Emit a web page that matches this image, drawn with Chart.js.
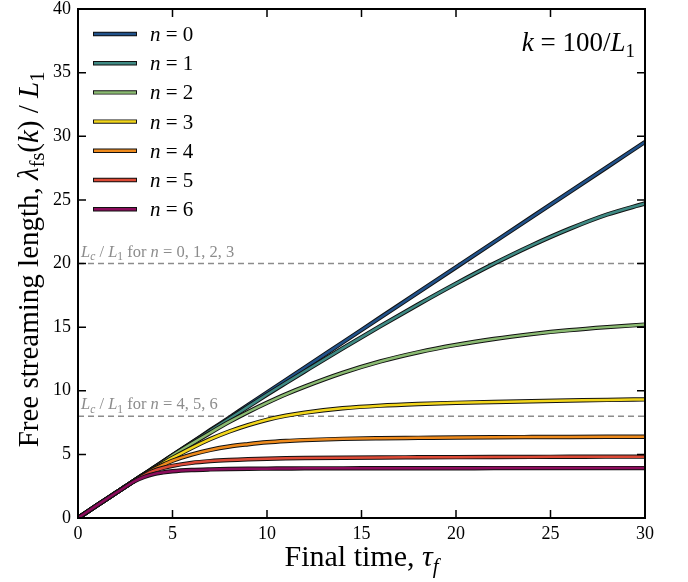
<!DOCTYPE html>
<html>
<head>
<meta charset="utf-8">
<script src="https://cdn.jsdelivr.net/npm/chart.js@4.4.1/dist/chart.umd.min.js"></script>
<style>
  body { margin: 0; background: #fff; }
  #wrap { width: 688px; height: 582px; }
</style>
</head>
<body>
<div id="wrap"><canvas id="fsChart" width="688" height="582"></canvas></div>
<script>
// final time tau_f (x) and free streaming length for each n (y)
const times = [0, 1, 2, 2.5, 3, 3.5, 4, 4.5, 5, 6, 7, 8, 9, 10, 11, 12, 14, 16, 18, 20, 22, 24, 26, 28, 30];
const n0 = [0, 0.99, 1.97, 2.46, 2.96, 3.45, 3.94, 4.43, 4.93, 5.91, 6.9, 7.88, 8.87, 9.85, 10.84, 11.82, 13.79, 15.76, 17.73, 19.7, 21.67, 23.64, 25.61, 27.58, 29.55];
const n1 = [0, 0.99, 1.97, 2.46, 2.96, 3.45, 3.94, 4.43, 4.92, 5.89, 6.85, 7.8, 8.75, 9.7, 10.62, 11.53, 13.33, 15.08, 16.78, 18.42, 19.98, 21.42, 22.72, 23.85, 24.72];
const n2 = [0, 0.99, 1.97, 2.46, 2.96, 3.44, 3.92, 4.4, 4.9, 5.82, 6.7, 7.55, 8.33, 9.05, 9.72, 10.32, 11.4, 12.3, 13.02, 13.6, 14.07, 14.45, 14.76, 15.0, 15.2];
const n3 = [0, 0.99, 1.97, 2.46, 2.95, 3.42, 3.87, 4.3, 4.72, 5.5, 6.2, 6.8, 7.3, 7.72, 8.04, 8.28, 8.62, 8.83, 8.96, 9.05, 9.12, 9.18, 9.23, 9.28, 9.32];
const n4 = [0, 0.99, 1.97, 2.46, 2.95, 3.4, 3.82, 4.18, 4.5, 4.98, 5.35, 5.62, 5.8, 5.95, 6.05, 6.12, 6.22, 6.27, 6.3, 6.33, 6.35, 6.36, 6.37, 6.38, 6.39];
const n5 = [0, 0.99, 1.97, 2.46, 2.94, 3.36, 3.7, 3.93, 4.1, 4.33, 4.47, 4.56, 4.62, 4.66, 4.69, 4.71, 4.74, 4.76, 4.77, 4.78, 4.79, 4.8, 4.81, 4.82, 4.82];
const n6 = [0, 0.99, 1.96, 2.44, 2.9, 3.22, 3.45, 3.58, 3.67, 3.77, 3.82, 3.85, 3.87, 3.88, 3.89, 3.9, 3.9, 3.91, 3.91, 3.91, 3.92, 3.92, 3.92, 3.92, 3.92];
const seriesNames = ['0', '1', '2', '3', '4', '5', '6'];
const seriesValues = [n0, n1, n2, n3, n4, n5, n6];
const seriesColors = ['#21528a', '#3f8a84', '#8bbb72', '#f2d61c', '#ee8a1c', '#dc4a36', '#8c0c5c'];
// critical lengths L_c/L_1 (dashed lines)
const critValues = [20, 8];
const critLabels = ['0, 1, 2, 3', '4, 5, 6'];
const xTicks = [0, 5, 10, 15, 20, 25, 30];
const yTicks = [0, 5, 10, 15, 20, 25, 30, 35, 40];

const SERIF = '"Liberation Serif", "DejaVu Serif", serif';

// build datasets: black outline under every coloured line
const datasets = [];
seriesValues.forEach(function(vals, i) {
  const pts = times.map(function(t, j) { return { x: t, y: vals[j] }; });
  datasets.push({
    label: 'outline' + i, data: pts, borderColor: '#111', borderWidth: 4.4,
    pointRadius: 0, cubicInterpolationMode: 'monotone', order: 2 * (6 - i) + 1
  });
  datasets.push({
    label: 'n = ' + seriesNames[i], data: pts, borderColor: seriesColors[i], borderWidth: 2.5,
    pointRadius: 0, cubicInterpolationMode: 'monotone', order: 2 * (6 - i)
  });
});
critValues.forEach(function(v, i) {
  datasets.push({
    label: 'crit' + i, data: [{ x: 0, y: v }, { x: 30, y: v }],
    borderColor: '#8c8c8c', borderWidth: 1.6, borderDash: [6, 4], pointRadius: 0, order: 20
  });
});

// draws a run of mixed italic / roman / subscript text
function runWidth(ctx, runs, size) {
  let w = 0;
  runs.forEach(function(r) {
    const s = r.sub ? size * 0.7 : size;
    ctx.font = (r.it ? 'italic ' : '') + s + 'px ' + SERIF;
    w += ctx.measureText(r.t).width;
  });
  return w;
}
function drawRuns(ctx, runs, x, y, size, align) {
  let w = runWidth(ctx, runs, size);
  let cx = align === 'center' ? x - w / 2 : (align === 'right' ? x - w : x);
  ctx.textAlign = 'left';
  ctx.textBaseline = 'alphabetic';
  runs.forEach(function(r) {
    const s = r.sub ? size * 0.7 : size;
    ctx.font = (r.it ? 'italic ' : '') + s + 'px ' + SERIF;
    ctx.fillText(r.t, cx, y + (r.sub ? size * 0.22 : 0));
    cx += ctx.measureText(r.t).width;
  });
}

const decorPlugin = {
  id: 'decor',
  afterDraw: function(chart) {
    const ctx = chart.ctx;
    const a = chart.chartArea;
    const xs = chart.scales.x, ys = chart.scales.y;
    ctx.save();
    // inward ticks on all four sides
    ctx.strokeStyle = '#000';
    ctx.lineWidth = 1.5;
    ctx.beginPath();
    xTicks.forEach(function(v) {
      const px = xs.getPixelForValue(v);
      ctx.moveTo(px, a.bottom); ctx.lineTo(px, a.bottom - 8);
      ctx.moveTo(px, a.top); ctx.lineTo(px, a.top + 8);
    });
    yTicks.forEach(function(v) {
      const py = ys.getPixelForValue(v);
      ctx.moveTo(a.left, py); ctx.lineTo(a.left + 8, py);
      ctx.moveTo(a.right, py); ctx.lineTo(a.right - 8, py);
    });
    ctx.stroke();
    // frame
    ctx.lineWidth = 2;
    ctx.strokeRect(a.left, a.top, a.right - a.left, a.bottom - a.top);

    // legend
    seriesNames.forEach(function(name, i) {
      const y = a.top + 25 + i * 29.2;
      ctx.lineCap = 'butt';
      ctx.strokeStyle = '#111'; ctx.lineWidth = 4.4;
      ctx.beginPath(); ctx.moveTo(93, y); ctx.lineTo(137, y); ctx.stroke();
      ctx.strokeStyle = seriesColors[i]; ctx.lineWidth = 2.5;
      ctx.beginPath(); ctx.moveTo(94, y); ctx.lineTo(136, y); ctx.stroke();
      ctx.fillStyle = '#000';
      drawRuns(ctx, [{ t: 'n', it: true }, { t: ' = ' + name }], 150, y + 7, 21, 'left');
    });

    // dashed line labels
    ctx.fillStyle = '#8c8c8c';
    critValues.forEach(function(v, i) {
      const py = ys.getPixelForValue(v);
      drawRuns(ctx, [
        { t: 'L', it: true }, { t: 'c', it: true, sub: true }, { t: ' / ' },
        { t: 'L', it: true }, { t: '1', sub: true }, { t: ' for ' },
        { t: 'n', it: true }, { t: ' = ' + critLabels[i] }
      ], a.left + 3, py - 7, 16.5, 'left');
    });

    // k label
    ctx.fillStyle = '#000';
    drawRuns(ctx, [
      { t: 'k', it: true }, { t: ' = 100/' }, { t: 'L', it: true }, { t: '1', sub: true }
    ], a.right - 10, a.top + 42, 27, 'right');

    // axis titles
    drawRuns(ctx, [{ t: 'Final time, ' }, { t: '\u03C4', it: true }, { t: 'f', it: true, sub: true }],
      (a.left + a.right) / 2, 566, 30, 'center');
    ctx.translate(38, (a.top + a.bottom) / 2 - 4);
    ctx.rotate(-Math.PI / 2);
    drawRuns(ctx, [
      { t: 'Free streaming length, ' }, { t: '\u03BB', it: true }, { t: 'fs', sub: true },
      { t: '(' }, { t: 'k', it: true }, { t: ')' }, { t: ' / ' },
      { t: 'L', it: true }, { t: '1', sub: true }
    ], 0, 0, 29, 'center');
    ctx.restore();
  }
};

new Chart(document.getElementById('fsChart'), {
  type: 'line',
  data: { datasets: datasets },
  options: {
    responsive: false,
    animation: false,
    layout: { padding: { top: 9, right: 43, left: 0, bottom: 0 } },
    plugins: { legend: { display: false }, tooltip: { enabled: false } },
    scales: {
      x: {
        type: 'linear', min: 0, max: 30,
        afterBuildTicks: function(s) { s.ticks = xTicks.map(function(v) { return { value: v }; }); },
        afterFit: function(s) { s.height = 64; s.paddingLeft = 0; s.paddingRight = 0; },
        grid: { display: false, drawTicks: false },
        border: { display: false },
        ticks: { color: '#000', padding: 5, maxRotation: 0, font: { family: SERIF, size: 18 } }
      },
      y: {
        min: 0, max: 40,
        afterBuildTicks: function(s) { s.ticks = yTicks.map(function(v) { return { value: v }; }); },
        afterFit: function(s) { s.width = 78; s.paddingTop = 0; s.paddingBottom = 0; },
        grid: { display: false, drawTicks: false },
        border: { display: false },
        ticks: { color: '#000', padding: 7, font: { family: SERIF, size: 18 } }
      }
    }
  },
  plugins: [decorPlugin]
});
</script>
</body>
</html>
